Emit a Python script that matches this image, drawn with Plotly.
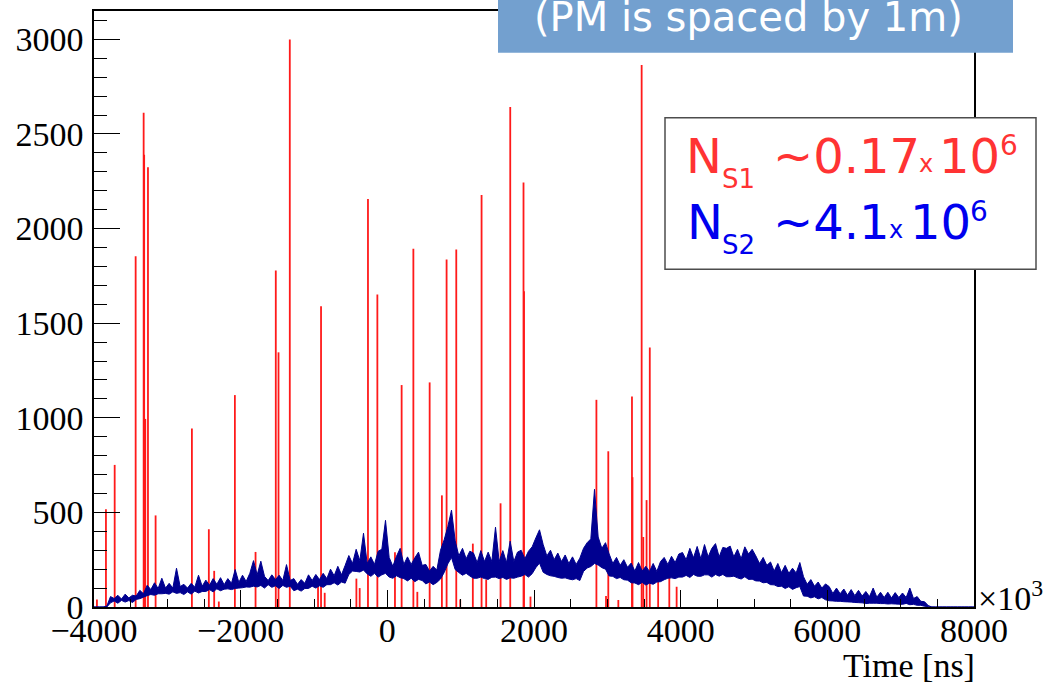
import plotly.graph_objects as go

# ---------------- data ----------------
# S2 histogram: lower and upper edge of the noisy band, one value per 50 (x10^3 ns) step
s2_start = -4000
s2_step = 50
s2_low = [
    0, 0, 0, 0, 22, 32, 20, 35, 26, 34, 24, 40, 44, 52, 60, 66, 62, 70, 70, 72,
    68, 80, 72, 76, 66, 80, 68, 84, 74, 82, 82, 92, 80, 96, 86, 94, 96, 92, 98, 100,
    102, 106, 105, 110, 106, 114, 100, 118, 104, 112, 98, 114, 104, 110, 86, 94, 84, 98, 98, 110,
    100, 112, 104, 118, 118, 128, 116, 132, 126, 172, 190, 188, 185, 195, 175, 162, 178, 158, 170, 178,
    158, 152, 165, 155, 150, 138, 152, 134, 146, 140, 122, 132, 118, 130, 148, 182, 228, 262, 198, 182,
    168, 178, 164, 152, 152, 158, 150, 146, 157, 158, 150, 156, 146, 154, 152, 158, 163, 172, 158, 176,
    208, 232, 184, 172, 165, 162, 156, 152, 154, 148, 144, 150, 140, 188, 206, 214, 230, 222, 208, 200,
    164, 162, 150, 156, 144, 142, 128, 127, 118, 130, 116, 126, 120, 132, 134, 144, 152, 154, 150, 158,
    158, 167, 156, 172, 163, 162, 170, 170, 158, 172, 163, 172, 160, 160, 163, 154, 148, 160, 146, 147,
    138, 137, 128, 130, 118, 117, 108, 110, 98, 107, 93, 102, 108, 58, 57, 48, 54, 43, 50, 38,
    33, 32, 30, 30, 28, 27, 26, 24, 23, 22, 18, 20, 20, 20, 18, 18, 16, 17, 16, 15,
    14, 19, 12, 14, 9, 9, 4, 2, 0, 0, 0, 0, 0, 0, 0, 0, 0, 0, 0, 0,
]
s2_high = [
    0, 0, 0, 5, 55, 45, 62, 42, 68, 48, 62, 58, 88, 70, 115, 92, 128, 98, 152, 100,
    125, 100, 205, 108, 120, 100, 125, 105, 168, 110, 142, 115, 150, 120, 155, 118, 150, 125, 198, 130,
    168, 135, 178, 245, 170, 242, 162, 140, 170, 145, 168, 140, 224, 140, 150, 120, 145, 125, 170, 140,
    172, 145, 178, 150, 200, 165, 215, 170, 220, 272, 230, 305, 245, 390, 230, 265, 225, 295, 305, 458,
    262, 215, 268, 310, 225, 265, 225, 260, 290, 220, 225, 190, 215, 195, 300, 355, 425, 512, 350, 270,
    310, 255, 295, 285, 235, 298, 240, 290, 240, 422, 240, 298, 235, 348, 240, 290, 300, 255, 295, 318,
    365, 408, 330, 270, 300, 250, 285, 240, 275, 230, 265, 225, 258, 310, 340, 360, 622, 370, 310, 340,
    280, 230, 262, 220, 250, 210, 232, 190, 235, 190, 215, 188, 230, 188, 240, 262, 225, 268, 235, 280,
    288, 250, 310, 260, 320, 255, 330, 265, 310, 335, 265, 315, 310, 322, 265, 305, 255, 318, 280, 305,
    270, 230, 262, 220, 238, 190, 230, 182, 220, 178, 205, 180, 235, 160, 120, 145, 110, 132, 100, 122,
    108, 72, 100, 70, 95, 62, 92, 60, 88, 58, 82, 55, 100, 52, 78, 50, 78, 48, 76, 50,
    74, 50, 100, 45, 55, 30, 28, 8, 0, 0, 0, 0, 0, 0, 0, 0, 0, 0, 0, 0,
]

s1_time = [-3960, -3837, -3718, -3432, -3323, -3316, -3301, -3264, -3160, -2665,
           -2434, -2361, -2298, -2079, -1797, -1521, -1484, -1330, -945, -904,
           -854, -422, -377, -264, -136, 104, 195, 355, 409, 577,
           744, 808, 940, 994, 1166, 1285, 1348, 1544, 1676, 1857,
           1864, 1952, 2851, 2982, 3013, 3150, 3336, 3343, 3468, 3490,
           3535, 3579, 3693, 3845, 3945]
s1_counts = [40, 516, 751, 1854, 2612, 2390, 994, 2324, 484, 943,
             411, 191, 29, 1120, 291, 1778, 1346, 3000, 120, 1589,
             75, 150, 100, 2157, 1652, 290, 1173, 1894, 80, 1187,
             590, 1836, 1889, 40, 335, 2178, 145, 548, 2643, 2243,
             1669, 55, 1095, 58, 823, 37, 1113, 686, 2865, 370,
             565, 1371, 200, 177, 107]

x_ticks = [-4000, -2000, 0, 2000, 4000, 6000, 8000]
y_ticks = [0, 500, 1000, 1500, 2000, 2500, 3000]

# ---------------- geometry helpers ----------------
W, H = 1047, 683
L, R, T, B = 94, 974, 9, 607


def px(xp):
    return (xp - L) / (R - L)


def py(yp):
    return (B - yp) / (B - T)


fig = go.Figure()

# S1 spikes (red)
xs, ys = [], []
for t, c in zip(s1_time, s1_counts):
    xs += [t, t, None]
    ys += [0, c, None]
fig.add_trace(go.Scatter(x=xs, y=ys, mode="lines",
                         line=dict(color="#ff1a1a", width=1.8, simplify=False),
                         hoverinfo="skip", showlegend=False))

# S2 histogram (blue noisy band)
navy = "#000090"
s2_x = [s2_start] + [s2_start + (i + 0.5) * s2_step for i in range(len(s2_low))] + [8000]
fig.add_trace(go.Scatter(x=s2_x, y=[0] + s2_low + [0], mode="lines",
                         line=dict(color=navy, width=1.0, simplify=False),
                         hoverinfo="skip", showlegend=False))
fig.add_trace(go.Scatter(x=s2_x, y=[0] + s2_high + [0], mode="lines",
                         fill="tonexty", fillcolor=navy,
                         line=dict(color=navy, width=1.0, simplify=False),
                         hoverinfo="skip", showlegend=False))

serif = "Liberation Serif, Times New Roman, serif"
sans = "DejaVu Sans, Verdana, sans-serif"

axis_common = dict(
    showline=True, linecolor="black", linewidth=1.5, mirror=True,
    ticks="inside", tickcolor="black", tickwidth=1.3,
    showgrid=False, zeroline=False,
    tickfont=dict(family=serif, size=34, color="black"),
)

fig.update_xaxes(range=[-4000, 8000], tickvals=x_ticks, ticklen=17,
                 ticklabelstandoff=-8,
                 minor=dict(dtick=500, ticks="inside", ticklen=8,
                            tickcolor="black", tickwidth=1.3, showgrid=False),
                 **axis_common)
fig.update_yaxes(range=[0, 3150], tickvals=y_ticks, ticklen=26,
                 ticklabelstandoff=2,
                 minor=dict(dtick=100, ticks="inside", ticklen=13,
                            tickcolor="black", tickwidth=1.3, showgrid=False),
                 **axis_common)

shapes = [
    # legend box
    dict(type="rect", xref="paper", yref="paper",
         x0=px(665), x1=px(1036), y0=py(268), y1=py(116),
         fillcolor="white", line=dict(color="#4d4d4d", width=1.5), layer="above"),
    # blue banner at top
    dict(type="rect", xref="paper", yref="paper",
         x0=px(498), x1=px(1013), y0=py(51), y1=py(-10),
         fillcolor="#73a0cf", line=dict(width=0), layer="above"),
]

annotations = []


def txt(text, x, y, size, color, family, xanchor="left"):
    annotations.append(dict(text=text, x=px(x), y=py(y), xref="paper", yref="paper",
                            xanchor=xanchor, yanchor="middle", showarrow=False,
                            font=dict(family=family, size=size, color=color)))


red_t = "#ff3333"
blue_t = "#0000ee"
# line 1 (baseline ~171)
txt("N", 684, 171 - 0.346 * 48, 48, red_t, sans)
txt("S1", 720, 187 - 0.346 * 26, 26, red_t, sans)
txt("~0.17", 771, 171 - 0.346 * 48, 48, red_t, sans)
txt("x", 917, 171 - 0.346 * 24, 24, red_t, sans)
txt("10", 937, 171 - 0.346 * 48, 48, red_t, sans)
txt("6", 998, 154 - 0.346 * 28, 28, red_t, sans)
# line 2 (baseline ~237)
txt("N", 685, 237 - 0.346 * 48, 48, blue_t, sans)
txt("S2", 720, 253 - 0.346 * 26, 26, blue_t, sans)
txt("~4.1", 771, 237 - 0.346 * 48, 48, blue_t, sans)
txt("x", 887, 237 - 0.346 * 24, 24, blue_t, sans)
txt("10", 908, 237 - 0.346 * 48, 48, blue_t, sans)
txt("6", 968, 220 - 0.346 * 28, 28, blue_t, sans)

# banner text
txt("(PM is spaced by 1m)", 748, 29 - 0.346 * 40, 40, "white", sans, xanchor="center")

# axis title & exponent
txt("Time [ns]", 977, 677 - 0.3375 * 34, 34, "black", serif, xanchor="right")
txt("×10<sup>3</sup>", 976, 607 - 0.3375 * 34, 34, "black", serif)

fig.update_layout(
    width=W, height=H,
    margin=dict(l=L, r=W - R, t=T, b=H - B, pad=0),
    paper_bgcolor="white", plot_bgcolor="white",
    shapes=shapes, annotations=annotations,
    showlegend=False,
)

fig.write_html("out.html", config={"displayModeBar": False},
               post_script="document.body.style.margin='0';")
